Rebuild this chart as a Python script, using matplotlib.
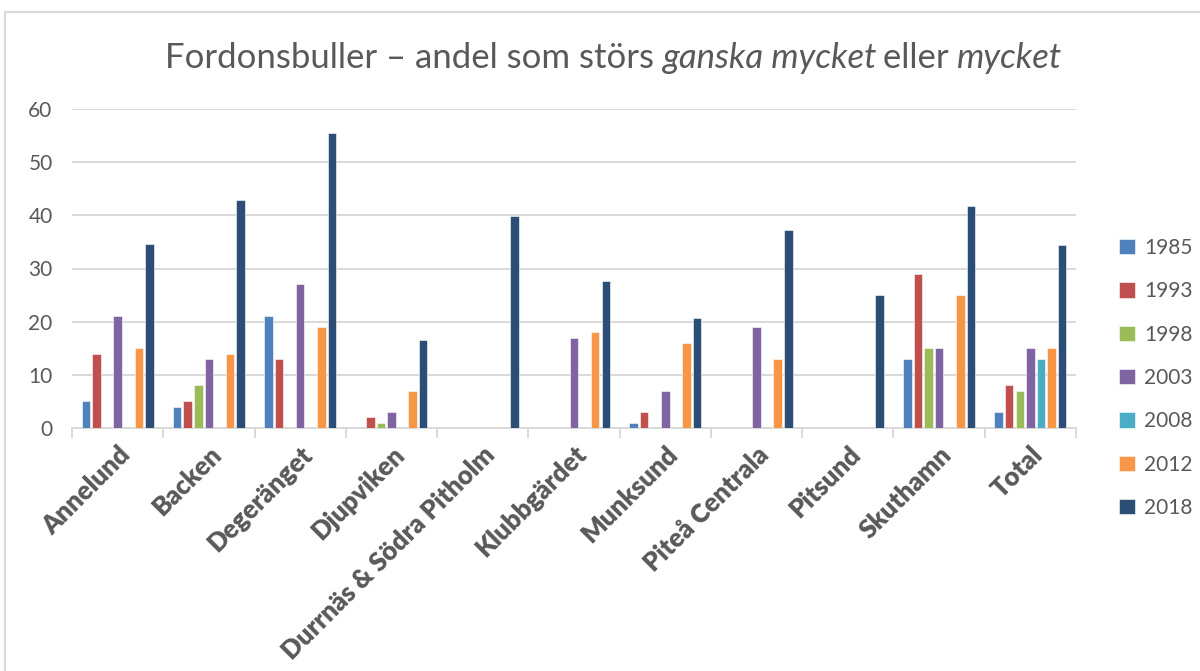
import matplotlib
matplotlib.use("Agg")
import matplotlib.pyplot as plt
import numpy as np
from matplotlib.patches import Rectangle

categories = ["Annelund", "Backen", "Degeränget", "Djupviken", "Durrnäs & Södra Pitholm",
              "Klubbgärdet", "Munksund", "Piteå Centrala", "Pitsund", "Skuthamn", "Total"]
years = ["1985", "1993", "1998", "2003", "2008", "2012", "2018"]

v1985 = [5, 4, 21, 0, 0, 0, 1, 0, 0, 13, 3]
v1993 = [14, 5, 13, 2, 0, 0, 3, 0, 0, 29, 8]
v1998 = [0, 8, 0, 1, 0, 0, 0, 0, 0, 15, 7]
v2003 = [21, 13, 27, 3, 0, 17, 7, 19, 0, 15, 15]
v2008 = [0, 0, 0, 0, 0, 0, 0, 0, 0, 0, 13]
v2012 = [15, 14, 19, 7, 0, 18, 16, 13, 0, 25, 15]
v2018 = [34.7, 42.8, 55.4, 16.6, 39.9, 27.7, 20.6, 37.3, 25, 41.7, 34.4]

series = [v1985, v1993, v1998, v2003, v2008, v2012, v2018]
colors = ["#4f81bd", "#c0504d", "#9bbb59", "#8064a2", "#4bacc6", "#f79646", "#2c4d75"]

text_col = "#595959"
grid_col = "#d9d9d9"
fam = ["Lato", "DejaVu Sans"]

fig = plt.figure(figsize=(12, 6.71), dpi=100)
fig.patch.set_facecolor("white")
fig.patches.append(Rectangle((5 / 1200, -0.1), 1.2, 1 - 12 / 671 + 0.1, transform=fig.transFigure,
                             fill=False, edgecolor=grid_col, linewidth=1.5, zorder=0))

ax = fig.add_axes([72 / 1200, 1 - 428 / 671, (1076 - 72) / 1200, (428 - 109) / 671])

x = np.arange(len(categories))
pitch = 0.116
width = 0.093
n = len(series)
for i, (vals, c, yr) in enumerate(zip(series, colors, years)):
    ax.bar(x + (i - (n - 1) / 2) * pitch, vals, width=width, color=c, label=yr,
           edgecolor="white", linewidth=0.4, zorder=3)

ax.set_xlim(-0.5, len(categories) - 0.5)
ax.set_ylim(0, 60)
ax.set_yticks(range(0, 61, 10))
ax.yaxis.grid(True, color=grid_col, linewidth=1.4, zorder=0)
ax.set_axisbelow(True)
for s in ["top", "right", "left"]:
    ax.spines[s].set_visible(False)
ax.spines["bottom"].set_color(grid_col)
ax.spines["bottom"].set_linewidth(1.4)
ax.tick_params(axis="y", length=0, pad=14, labelsize=15, labelcolor=text_col)
for lab in ax.get_yticklabels():
    lab.set_family(fam)

ax.set_xticks(np.arange(-0.5, len(categories), 1.0))
ax.set_xticklabels([])
ax.tick_params(axis="x", which="major", length=7, width=1.4, color=grid_col, direction="out")
ax.set_xticks(x, minor=True)
ax.set_xticklabels(categories, minor=True, rotation=45, ha="right", va="top",
                   rotation_mode="anchor", fontsize=18.5, fontweight="heavy", color=text_col, family=fam)
ax.tick_params(axis="x", which="minor", length=0, pad=10)

leg = ax.legend(loc="center left", bbox_to_anchor=(1.035, 0.157), frameon=False,
                handlelength=0.75, handleheight=0.75, handletextpad=0.45, labelspacing=1.12,
                prop={"family": fam, "size": 15}, borderaxespad=0)
for t in leg.get_texts():
    t.set_color(text_col)

# title with mixed italic parts
parts = [("Fordonsbuller – andel som störs ", "normal"), ("ganska mycket", "italic"),
         (" eller ", "normal"), ("mycket", "italic")]
fs = 25
fig.canvas.draw()
r = fig.canvas.get_renderer()
texts = []
for s, st in parts:
    t = fig.text(0, 1 - 58 / 671, s, fontsize=fs, style=st, color=text_col, family=fam,
                 va="center", ha="left")
    texts.append(t)
widths = []
for t, (s, st) in zip(texts, parts):
    w = t.get_window_extent(r).width
    if st == "italic":
        w -= 4
    widths.append(w)
total = sum(widths)
xpos = 612 - total / 2
for t, w in zip(texts, widths):
    t.set_x(xpos / 1200)
    xpos += w

fig.savefig("out.png", dpi=100, facecolor="white")
